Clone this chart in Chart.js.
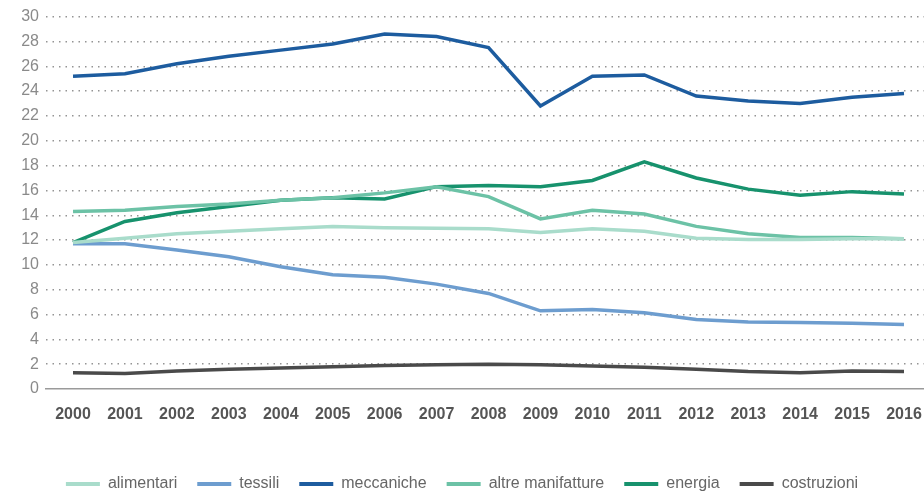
<!DOCTYPE html>
<html>
<head>
<meta charset="utf-8">
<script src="https://cdn.jsdelivr.net/npm/chart.js@4/dist/chart.umd.min.js"></script>
<style>
  html, body { margin: 0; padding: 0; background: #fff; overflow: hidden; }
  #wrap { width: 924px; height: 492px; }
</style>
</head>
<body>
<div id="wrap"><canvas id="chart" width="924" height="492"></canvas></div>
<script>
  const years = [2000,2001,2002,2003,2004,2005,2006,2007,2008,2009,2010,2011,2012,2013,2014,2015,2016];
  const yTicks = [0,2,4,6,8,10,12,14,16,18,20,22,24,26,28,30];

  const alimentari  = [11.8,12.15,12.5,12.7,12.9,13.1,13.0,12.95,12.9,12.6,12.9,12.7,12.15,12.05,12.05,12.1,12.1];
  const tessili     = [11.7,11.7,11.2,10.65,9.85,9.2,9.0,8.45,7.7,6.3,6.4,6.15,5.6,5.4,5.35,5.3,5.2];
  const meccaniche  = [25.2,25.4,26.2,26.8,27.3,27.8,28.6,28.4,27.5,22.8,25.2,25.3,23.6,23.2,23.0,23.5,23.8];
  const altre       = [14.3,14.4,14.7,14.9,15.2,15.4,15.8,16.3,15.5,13.7,14.4,14.1,13.1,12.5,12.2,12.2,12.1];
  const energia     = [11.8,13.5,14.2,14.7,15.2,15.4,15.3,16.3,16.4,16.3,16.8,18.3,17.0,16.1,15.6,15.9,15.7];
  const costruzioni = [1.3,1.25,1.45,1.6,1.7,1.8,1.9,1.95,2.0,1.95,1.85,1.75,1.6,1.4,1.3,1.45,1.4];

  const series = [
    { label: 'alimentari', data: alimentari, color: '#a9dccb' },
    { label: 'tessili', data: tessili, color: '#6d9dcf' },
    { label: 'meccaniche', data: meccaniche, color: '#1d5c9f' },
    { label: 'altre manifatture', data: altre, color: '#6cc2a6' },
    { label: 'energia', data: energia, color: '#17926d' },
    { label: 'costruzioni', data: costruzioni, color: '#4a4a4a' }
  ];

  const toPts = (arr)=> arr.map((v,i)=> ({ x: years[i], y: v }));

  // legend: keep the Chart.js item spacing but shrink its box so it sits low
  const legendFix = {
    id: 'legendFix',
    afterInit(chart){
      const lg = chart.legend;
      if(!lg) return;
      const fit = lg.fit;
      lg.fit = function(){ fit.call(this); this.height = 36; };
    }
  };

  new Chart(document.getElementById('chart'), {
    type: 'line',
    data: {
      datasets: series.map(s=> ({
        label: s.label,
        data: toPts(s.data),
        borderColor: s.color,
        backgroundColor: s.color,
        borderWidth: 3.5,
        pointRadius: 0,
        tension: 0,
        fill: false
      }))
    },
    options: {
      responsive: false,
      animation: false,
      layout: { padding: { top: 16, left: 0, right: 0, bottom: 0 } },
      scales: {
        x: {
          type: 'linear',
          min: 1999.48,
          max: 2016.385,
          afterBuildTicks: (s)=> { s.ticks = years.map(v=> ({ value: v })); },
          afterFit: (s)=> { s.height = 67; s.paddingLeft = 0; s.paddingRight = 0; },
          grid: { display: false, drawTicks: false },
          border: { display: true, color: '#9a9a9a', width: 1.5 },
          ticks: {
            padding: 16,
            autoSkip: false,
            maxRotation: 0,
            color: '#555',
            font: { family: 'Liberation Sans, Arial, sans-serif', size: 16, weight: 'bold' },
            callback: (v)=> String(v)
          }
        },
        y: {
          min: 0,
          max: 30,
          afterBuildTicks: (s)=> { s.ticks = yTicks.map(v=> ({ value: v })); },
          afterFit: (s)=> { s.width = 46; },
          grid: {
            drawTicks: false,
            color: (c)=> c.tick && c.tick.value === 0 ? 'rgba(0,0,0,0)' : '#949494',
            lineWidth: 1.4
          },
          border: { display: false, dash: [1.5, 5] },
          ticks: {
            padding: 7,
            color: '#8a8a8a',
            font: { family: 'Liberation Sans, Arial, sans-serif', size: 16 }
          }
        }
      },
      plugins: {
        tooltip: { enabled: false },
        legend: {
          position: 'bottom',
          labels: {
            boxWidth: 34,
            boxHeight: 4,
            padding: 20,
            color: '#666',
            font: { family: 'Liberation Sans, Arial, sans-serif', size: 16 },
            generateLabels: (chart)=> Chart.defaults.plugins.legend.labels.generateLabels(chart)
              .map(l=> ({ ...l, lineWidth: 0 }))
          }
        }
      }
    },
    plugins: [legendFix]
  });
</script>
</body>
</html>
